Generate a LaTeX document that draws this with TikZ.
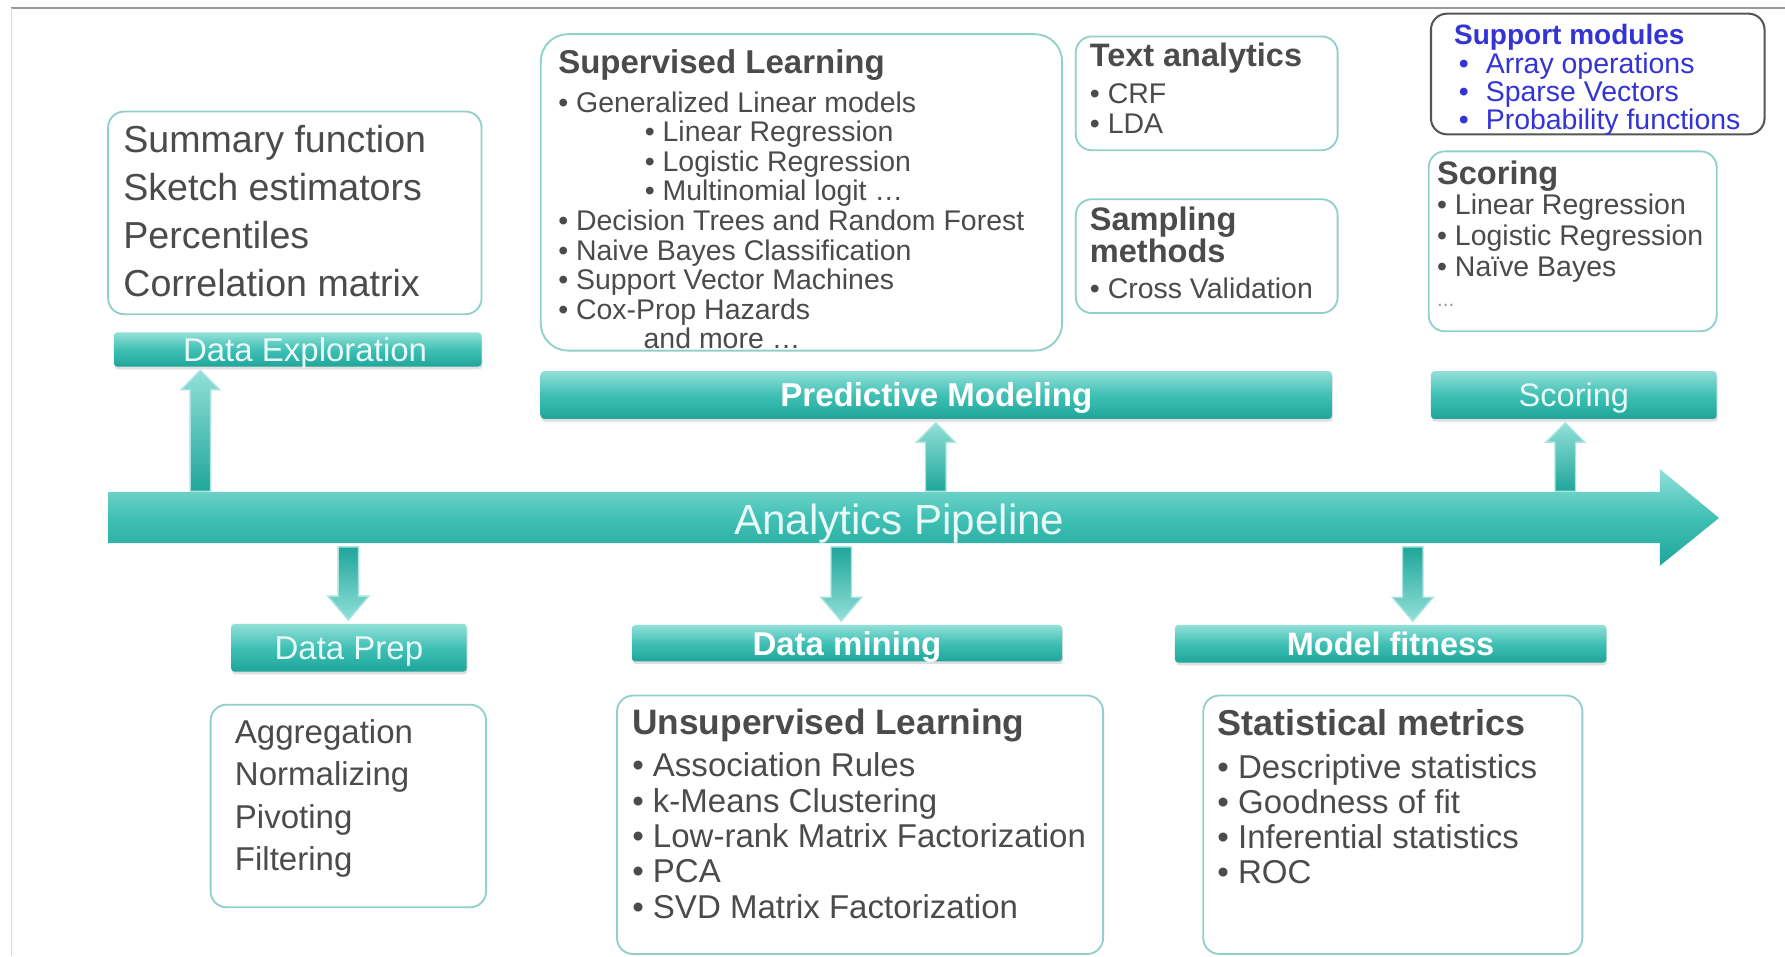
\documentclass[tikz,border=0pt]{standalone}
\usepackage{fontspec}
\setmainfont{Liberation Sans}
\usetikzlibrary{calc,shadows,fit}
\definecolor{tealL}{HTML}{92E0D8}
\definecolor{tealM}{HTML}{40C0B5}
\definecolor{tealD}{HTML}{1FA59A}
\definecolor{boxb}{HTML}{8FD0CA}
\definecolor{txtc}{HTML}{4B4B4B}
\definecolor{bartxt}{HTML}{E8F9F7}
\definecolor{supblue}{HTML}{3434D6}
\definecolor{supgrey}{HTML}{555555}
\definecolor{arrline}{HTML}{A9E4DF}
\newcommand{\fs}[2]{\fontsize{#1pt}{#2pt}\selectfont}
\newcommand{\uparr}[2]{\path[blockup] let \p1=(#1), \p2=(#2) in
  (\x1-4.5pt,\y1) -- (\x1-4.5pt,\y2-10pt) -- (\x1-8.5pt,\y2-10pt) -- (\x1,\y2-1.5pt)
  -- (\x1+8.5pt,\y2-10pt) -- (\x1+4.5pt,\y2-10pt) -- (\x1+4.5pt,\y1) -- cycle;}
\newcommand{\downarr}[2]{\path[blockdown] let \p1=(#1), \p2=(#2) in
  (\x1-4.5pt,\y1-1.5pt) -- (\x1-4.5pt,\y2+12pt) -- (\x1-9pt,\y2+12pt) -- (\x1,\y2+1.5pt)
  -- (\x1+9pt,\y2+12pt) -- (\x1+4.5pt,\y2+12pt) -- (\x1+4.5pt,\y1-1.5pt) -- cycle;}
\begin{document}
\begin{tikzpicture}[x=0.5pt,y=-0.5pt,
  tbox/.style={draw=boxb, line width=0.8pt, rounded corners=7pt, fill=white, inner sep=0pt},
  bar/.style={top color=tealL, bottom color=tealD, middle color=tealM, draw=none,
    inner sep=0pt, rounded corners=1.5pt,
    drop shadow={opacity=0.25, shadow xshift=0.4pt, shadow yshift=-1.2pt}},
  bartext/.style={inner sep=0pt, text=bartxt, text height=11pt, text depth=0.5pt},
  lbl/.style={inner sep=0pt, anchor=north west, align=left, text=txtc},
  blockup/.style={draw=arrline, line width=0.6pt, top color=tealL, bottom color=tealD},
  blockdown/.style={draw=arrline, line width=0.6pt, top color=tealD, bottom color=tealL},
  pipeshade/.style={top color=tealL, bottom color=tealD, middle color=tealM}]
\useasboundingbox (0,0) rectangle (1568,840);
\fill[white] (0,0) rectangle (1568,840);
% slide frame
\draw[color=black!40, line width=1pt] (10,7) -- (1568,7);
\draw[color=black!15, line width=0.6pt] (10,7) -- (10,840);

% ---- pipeline ----
\path[pipeshade] (95,432) -- (1458,432) -- (1458,412) -- (1510,455) -- (1458,497)
  -- (1458,477) -- (95,477) -- cycle;
\node[fit={(95,432)(1458,477)}, inner sep=0pt] (pipe) {};
\node[bartext, text height=14pt, text depth=0.7pt, font=\fs{18.5}{20}] (pipetxt) at (790,456) {Analytics Pipeline};

% ---- bars ----
\node[bar, fit={(100,292)(423,322)}] (dexpbar) {};
\node[bartext, font=\fs{14.5}{16}, xshift=3.25pt] (dexplbl) at (dexpbar.center) {Data Exploration};
\node[bar, fit={(475,326)(1170,368)}] (predbar) {};
\node[bartext, font=\bfseries\fs{14.5}{16}, text=white] (predlbl) at (predbar.center) {Predictive Modeling};
\node[bar, fit={(1257,326)(1508,368)}] (scorebar) {};
\node[bartext, font=\fs{14.3}{16}] (scorelbl) at (scorebar.center) {Scoring};
\node[bar, fit={(203,548)(410,590)}] (prepbar) {};
\node[bartext, font=\fs{14.5}{16}] (preplbl) at (prepbar.center) {Data Prep};
\node[bar, fit={(555,549)(933,581)}] (minebar) {};
\node[bartext, font=\bfseries\fs{14.5}{16}, text=white] (minelbl) at (minebar.center) {Data mining};
\node[bar, fit={(1032,549)(1411,582)}] (fitbar) {};
\node[bartext, font=\bfseries\fs{14.25}{16}, text=white] (fitlbl) at (fitbar.center) {Model fitness};

% ---- connectors ----
\coordinate (xa) at (176,0);
\coordinate (xb) at (822,0);
\coordinate (xc) at (1375,0);
\coordinate (xd) at (306,0);
\coordinate (xe) at (739,0);
\coordinate (xf) at (1241,0);
\uparr{pipe.north -| xa}{dexpbar.south -| xa}
\uparr{pipe.north -| xb}{predbar.south -| xb}
\uparr{pipe.north -| xc}{scorebar.south -| xc}
\downarr{pipe.south -| xd}{prepbar.north -| xd}
\downarr{pipe.south -| xe}{minebar.north -| xe}
\downarr{pipe.south -| xf}{fitbar.north -| xf}

% ---- text boxes ----
\node[tbox, fit={(95,98)(423,276)}] (dexpbox) {};
\node[lbl, font=\fs{16.5}{21}] (dexptxt) at (108,110)
  {Summary function\\Sketch estimators\\Percentiles\\Correlation matrix};

\node[tbox, rounded corners=12pt, fit={(475,30)(933,308)}] (supbox) {};
\node[lbl, font=\bfseries\fs{14.5}{16}] (suptitle) at (490,43) {Supervised Learning};
\node[lbl, font=\fs{12.5}{13}] (suptxt) at (490,80)
  {• Generalized Linear models\\
   \hspace*{38pt}• Linear Regression\\
   \hspace*{38pt}• Logistic Regression\\
   \hspace*{38pt}• Multinomial logit …\\
   • Decision Trees and Random Forest\\
   • Naive Bayes Classification\\
   • Support Vector Machines\\
   • Cox-Prop Hazards\\
   \hspace*{37.5pt}and more …};

\node[tbox, fit={(945,32)(1175,132)}] (textbox) {};
\node[lbl, font=\bfseries\fs{14.25}{16}] (texttitle) at (957,37.5) {Text analytics};
\node[lbl, font=\fs{12.5}{13}] (texttxt) at (957,73) {• CRF\\• LDA};

\node[tbox, fit={(945,175)(1175,275)}] (sampbox) {};
\node[lbl, font=\bfseries\fs{14.3}{12.5}] (samptitle) at (957,181) {Sampling\\methods};
\node[lbl, font=\fs{12.5}{13}] (samptxt) at (957,244) {• Cross Validation};

\node[tbox, draw=supgrey, line width=0.9pt, fit={(1257,12)(1550,118)}] (modbox) {};
\node[lbl, text=supblue, font=\bfseries\fs{12.3}{13}] (modtitle) at (1277,21) {Support modules};
\node[lbl, text=supblue, font=\fs{12.5}{12.25}] (modtxt) at (1281,46)
  {•\hspace{7.5pt}Array operations\\•\hspace{7.5pt}Sparse Vectors\\•\hspace{7.5pt}Probability functions};

\node[tbox, fit={(1255,133)(1508,291)}] (scorebox) {};
\node[lbl, font=\bfseries\fs{14.3}{16}] (scoretitle) at (1262,141) {Scoring};
\node[lbl, font=\fs{12.5}{13.5}] (scoretxt) at (1262,170)
  {• Linear Regression\\• Logistic Regression\\• Naïve Bayes\\{\color{black!40}\fs{9}{13.5}...}};

\node[tbox, fit={(185,619)(427,797)}] (prepbox) {};
\node[lbl, font=\fs{14.5}{18.5}] (preptxt) at (206,632)
  {Aggregation\\Normalizing\\Pivoting\\Filtering};

\node[tbox, fit={(542,611)(969,838)}] (unsupbox) {};
\node[lbl, font=\bfseries\fs{15.5}{17}] (unsuptitle) at (555,622.5) {Unsupervised Learning};
\node[lbl, font=\fs{14.5}{15.5}] (unsuptxt) at (555,661)
  {• Association Rules\\• k-Means Clustering\\• Low-rank Matrix Factorization\\• PCA\\• SVD Matrix Factorization};

\node[tbox, fit={(1057,611)(1390,838)}] (statbox) {};
\node[lbl, font=\bfseries\fs{15.8}{17}] (stattitle) at (1069,623) {Statistical metrics};
\node[lbl, font=\fs{14.5}{15.5}] (stattxt) at (1069,662)
  {• Descriptive statistics\\• Goodness of fit\\• Inferential statistics\\• ROC};
\end{tikzpicture}
\end{document}
